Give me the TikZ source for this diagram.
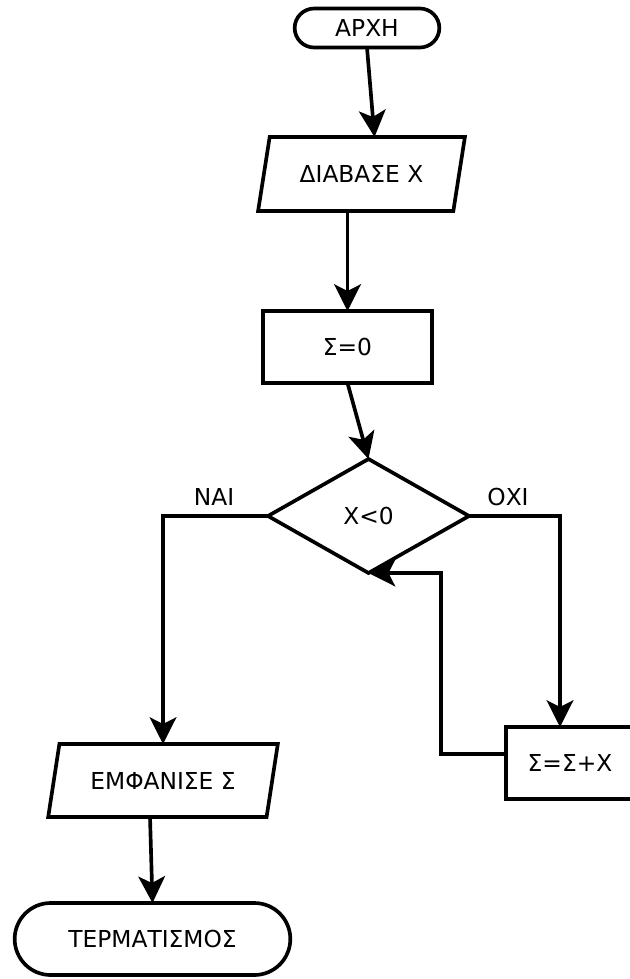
\documentclass[tikz,border=0pt]{standalone}
\usepackage{fontspec}
\setmainfont{DejaVu Sans}
\usetikzlibrary{shapes.geometric,shapes.misc,arrows.meta,calc}

\tikzset{every picture/.style={line width=2.75pt}}
\tikzset{
  term/.style={draw, rounded rectangle, inner sep=2pt, outer sep=0pt},
  io/.style={draw, trapezium, trapezium left angle=70, trapezium right angle=110, trapezium stretches=true, inner sep=2pt, outer sep=0pt},
  proc/.style={draw, rectangle, inner sep=2pt, outer sep=0pt},
  cond/.style={draw, diamond, inner sep=0pt, outer sep=0pt},
  flow/.style={-{Stealth[length=20pt,width=20pt,inset=5pt]}},
}

\begin{document}
\begin{tikzpicture}[x=0.75pt,y=0.75pt,yscale=-1,xscale=1,font=\fontsize{17.5pt}{21pt}\selectfont]
%set diagram left start at 0, and has height of 979
\path[use as bounding box] (0,0) rectangle (629,979);

%Shape: Terminal [id:start]
\node[term, minimum width=112.5pt, minimum height=29.25pt] (start) at (367,28) {ΑΡΧΗ};
%Shape: Parallelogram [id:read]
\node[io, minimum width=155.25pt, minimum height=55.5pt] (read) at (361.5,174) {ΔΙΑΒΑΣΕ Χ};
%Shape: Rectangle [id:init]
\node[proc, minimum width=126.75pt, minimum height=54pt] (init) at (347.5,347) {Σ=0};
%Shape: Diamond [id:test]
\node[cond, minimum width=150.75pt, minimum height=85.5pt] (test) at (368.5,516) {Χ<0};
%Shape: Rectangle [id:add]
\node[proc, minimum width=96pt, minimum height=54pt] (add) at (570,763) {Σ=Σ+Χ};
%Shape: Parallelogram [id:show]
\node[io, minimum width=172.5pt, minimum height=54.75pt] (show) at (163,780.5) {ΕΜΦΑΝΙΣΕ Σ};
%Shape: Terminal [id:stop]
\node[term, minimum width=210.75pt, minimum height=54pt] (stop) at (152.5,939) {ΤΕΡΜΑΤΙΣΜΟΣ};

% Text Node
\node (yes) at (214,497) {ΝΑΙ};
% Text Node
\node (no) at (508,497) {ΟΧΙ};

%Straight Lines
\draw[flow] (start.south) -- ($(read.north)+(13,0)$);
\draw[flow] (init.north |- read.south) -- (init.north);
\draw[flow] (init.south) -- (test.north);
\draw[flow] ($(show.south)+(-13,0)$) -- (stop.north);

%Connectors
\draw[flow] (test.west) -| (show.north);
\draw[flow] (test.east) -| ($(add.north)+(-10,0)$);
\draw[flow] ($(add.west)+(0,-9)$) -- ++(-65,0) |- (test.south);

\end{tikzpicture}
\end{document}
